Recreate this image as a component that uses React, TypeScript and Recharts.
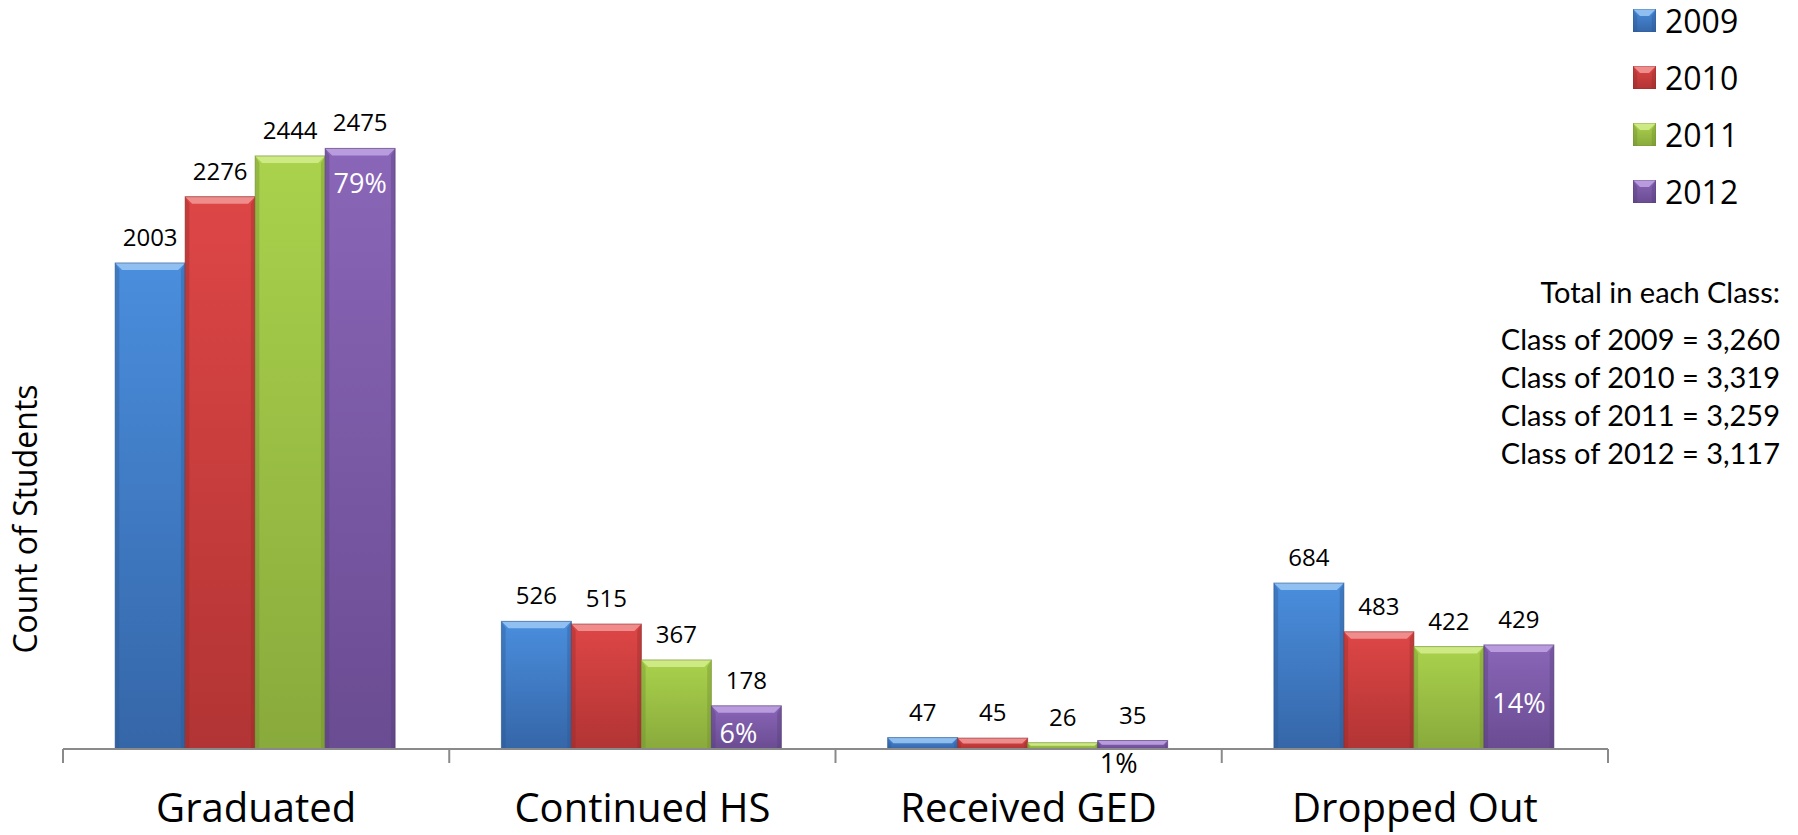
import React from "react";
import { BarChart, Bar, XAxis, YAxis, LabelList, Legend } from "recharts";

// Dados do gráfico
const categorias = ["Graduated", "Continued HS", "Received GED", "Dropped Out"];
const anos = ["2009", "2010", "2011", "2012"];
const v2009 = [2003, 526, 47, 684];
const v2010 = [2276, 515, 45, 483];
const v2011 = [2444, 367, 26, 422];
const v2012 = [2475, 178, 35, 429];
const pct2012 = ["79%", "6%", "1%", "14%"];
const tituloTotais = "Total in each Class:";
const totaisClasse = [
  "Class of 2009 = 3,260",
  "Class of 2010 = 3,319",
  "Class of 2011 = 3,259",
  "Class of 2012 = 3,117",
];

const W = 1798;
const H = 835;
const MARGEM = { top: 21, right: 190, bottom: 0, left: 63 };
const LARG_PLOT = W - MARGEM.left - MARGEM.right;
const FONTE = "'Open Sans', sans-serif";

// cores: topo, base, chanfro claro, borda escura
const CORES = [
  { top: "#4A8EDD", bottom: "#3566A8", light: "#9CC8F4", dark: "#2B568F" },
  { top: "#DE4646", bottom: "#B23434", light: "#F29A9A", dark: "#8E2A2A" },
  { top: "#AAD24C", bottom: "#89AA3C", light: "#D4EE8E", dark: "#6E8A2E" },
  { top: "#8A66B8", bottom: "#6A4C92", light: "#C1A6E4", dark: "#543C76" },
];

// deslocamento manual dos rótulos de % (como no slide original)
const PCT_DY = [34, 27, 22, 58];
const PCT_DX = [0, -8, -14, 0];

const dados = categorias.map((c, i) => ({
  cat: c,
  y2009: v2009[i],
  y2010: v2010[i],
  y2011: v2011[i],
  y2012: v2012[i],
}));

function BarraChanfrada(props: any) {
  const { x, y, width: w, height: h, serie } = props;
  if (!h || h <= 0) return null;
  const c = CORES[serie];
  const b = Math.min(7, h / 2);
  return (
    <g>
      <rect x={x} y={y} width={w} height={h} fill={`url(#grad-${serie})`} />
      <polygon
        points={`${x},${y} ${x + w},${y} ${x + w - b},${y + b} ${x + b},${y + b}`}
        fill={c.light}
        opacity={0.85}
      />
      <polygon
        points={`${x},${y} ${x + b * 0.6},${y + b} ${x + b * 0.6},${y + h} ${x},${y + h}`}
        fill={c.dark}
        opacity={0.35}
      />
      <polygon
        points={`${x + w},${y} ${x + w - b * 0.6},${y + b} ${x + w - b * 0.6},${y + h} ${x + w},${y + h}`}
        fill={c.dark}
        opacity={0.35}
      />
      <rect x={x} y={y} width={w} height={h} fill="none" stroke={c.dark} strokeWidth={1} strokeOpacity={0.6} />
    </g>
  );
}

function TickCategoria(props: any) {
  const { x, y, payload, index } = props;
  const banda = LARG_PLOT / categorias.length;
  const ultimo = index === categorias.length - 1;
  return (
    <g>
      <line x1={x - banda / 2} y1={y} x2={x - banda / 2} y2={y + 14} stroke="#8a8a8a" strokeWidth={2} />
      {ultimo && (
        <line x1={x + banda / 2} y1={y} x2={x + banda / 2} y2={y + 14} stroke="#8a8a8a" strokeWidth={2} />
      )}
      <text x={x} y={y + 73} textAnchor="middle" fontSize={40} fill="#000" fontFamily={FONTE}>
        {payload.value}
      </text>
    </g>
  );
}

function RotuloPct(props: any) {
  const { x, y, width, height, index } = props;
  const dy = PCT_DY[index];
  const fora = dy > height;
  return (
    <text
      x={x + width / 2 + PCT_DX[index]}
      y={y + dy}
      textAnchor="middle"
      dominantBaseline="central"
      fontSize={27}
      fill={fora ? "#000" : "#fff"}
      fontFamily={FONTE}
    >
      {pct2012[index]}
    </text>
  );
}

function Legenda() {
  return (
    <div style={{ fontFamily: FONTE }}>
      {anos.map((a, i) => (
        <div key={a} style={{ display: "flex", alignItems: "center", height: 57 }}>
          <svg width={23} height={23} style={{ display: "block" }}>
            <BarraChanfrada x={0} y={0} width={23} height={23} serie={i} />
          </svg>
          <span style={{ fontSize: 32, lineHeight: "32px", marginLeft: 9, color: "#000" }}>{a}</span>
        </div>
      ))}
    </div>
  );
}

export default function App() {
  const chaves = ["y2009", "y2010", "y2011", "y2012"];
  return (
    <div style={{ position: "absolute", left: 0, top: 0, width: W, height: H, background: "#fff" }}>
      <svg width={0} height={0} style={{ position: "absolute" }}>
        <defs>
          {CORES.map((c, i) => (
            <linearGradient key={i} id={`grad-${i}`} x1="0" y1="0" x2="0" y2="1">
              <stop offset="0%" stopColor={c.top} />
              <stop offset="100%" stopColor={c.bottom} />
            </linearGradient>
          ))}
        </defs>
      </svg>

      <BarChart
        width={W}
        height={H}
        data={dados}
        margin={MARGEM}
        barGap={0}
        barCategoryGap="13.5%"
        style={{ fontFamily: FONTE }}
      >
        <XAxis
          dataKey="cat"
          height={86}
          interval={0}
          tickLine={false}
          tickSize={0}
          tickMargin={0}
          axisLine={{ stroke: "#8a8a8a", strokeWidth: 2 }}
          tick={<TickCategoria />}
        />
        <YAxis hide domain={[0, 3000]} />
        <Legend
          layout="vertical"
          align="center"
          verticalAlign="middle"
          content={() => <Legenda />}
          wrapperStyle={{ position: "absolute", top: -8, left: 1633, width: 160 }}
        />
        {chaves.map((k, i) => (
          <Bar
            key={k}
            dataKey={k}
            name={anos[i]}
            fill={CORES[i].top}
            isAnimationActive={false}
            shape={(p: any) => <BarraChanfrada {...p} serie={i} />}
          >
            <LabelList dataKey={k} position="top" offset={17} fill="#000" fontSize={24} fontFamily={FONTE} />
            {i === 3 && <LabelList dataKey={k} content={<RotuloPct />} />}
          </Bar>
        ))}
      </BarChart>

      <svg
        width={W}
        height={H}
        style={{ position: "absolute", left: 0, top: 0, pointerEvents: "none" }}
      >
        <text
          transform="translate(37,519) rotate(-90)"
          textAnchor="middle"
          fontSize={32}
          fontFamily={FONTE}
          fill="#000"
        >
          Count of Students
        </text>
        <g fontFamily="Lato, sans-serif" fontSize={29} fill="#000" textAnchor="end">
          <text x={1780} y={303}>{tituloTotais}</text>
          {totaisClasse.map((t, i) => (
            <text key={t} x={1780} y={350 + i * 38}>
              {t}
            </text>
          ))}
        </g>
      </svg>
    </div>
  );
}
